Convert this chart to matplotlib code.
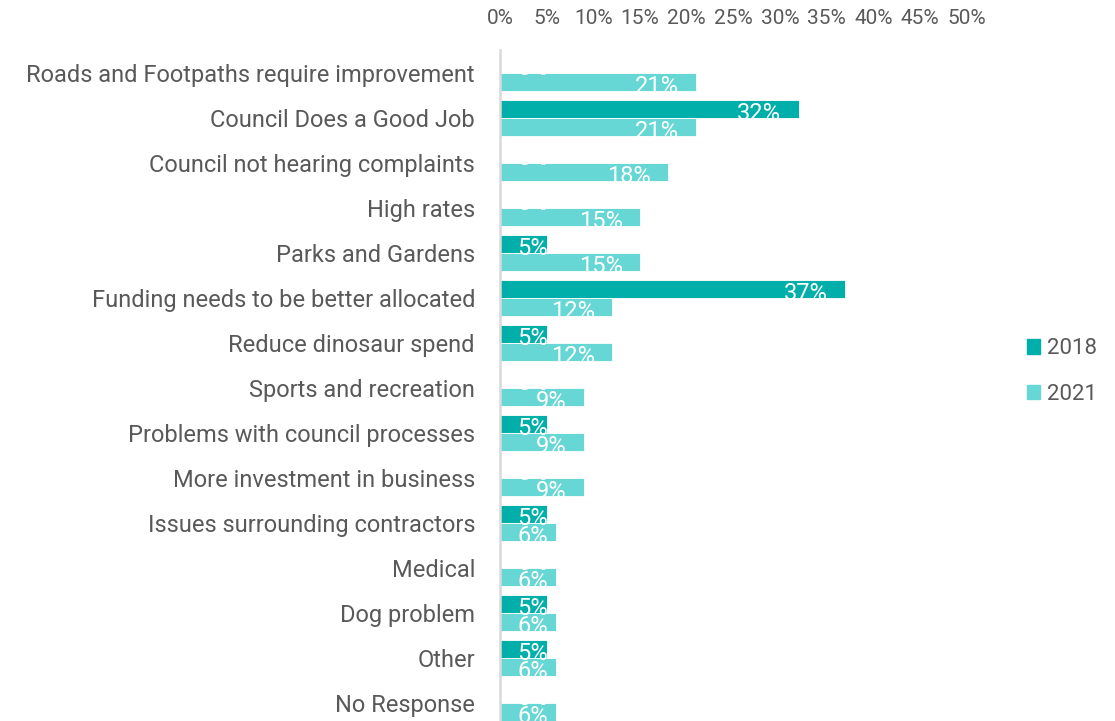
import matplotlib.pyplot as plt
import numpy as np
from matplotlib.patches import Patch

plt.rcParams["font.family"] = ["Roboto", "DejaVu Sans"]

categories = [
    "Roads and Footpaths require improvement",
    "Council Does a Good Job",
    "Council not hearing complaints",
    "High rates",
    "Parks and Gardens",
    "Funding needs to be better allocated",
    "Reduce dinosaur spend",
    "Sports and recreation",
    "Problems with council processes",
    "More investment in business",
    "Issues surrounding contractors",
    "Medical",
    "Dog problem",
    "Other",
    "No Response",
]
pct_2018 = [0, 32, 0, 0, 5, 37, 5, 0, 5, 0, 5, 0, 5, 5, 0]
pct_2021 = [21, 21, 18, 15, 15, 12, 12, 9, 9, 9, 6, 6, 6, 6, 6]
x_ticks = [0, 5, 10, 15, 20, 25, 30, 35, 40, 45, 50]

c2018 = "#00AFA9"
c2021 = "#66D7D5"
grey = "#595959"

fig = plt.figure(figsize=(11.15, 7.21), dpi=100)
ax = fig.add_axes([500 / 1115, 0, (966.7 - 500) / 1115, 1 - 50.2 / 721])

y = np.arange(len(categories))
h = 0.4
ax.barh(y - h / 2, pct_2018, height=h, color=c2018, edgecolor="white", linewidth=0.6, label="2018")
ax.barh(y + h / 2, pct_2021, height=h, color=c2021, edgecolor="white", linewidth=0.6, label="2021")

# value labels: inside the end of the bar, or pinned to the axis for short bars
for yy, vals in [(y - h / 2, pct_2018), (y + h / 2, pct_2021)]:
    for yi, v in zip(yy, vals):
        if v < 8:
            ax.annotate(f"{v}%", (0, yi), xytext=(12.5, -3.5), textcoords="offset points",
                        ha="left", va="center", color="white", fontsize=17, zorder=5)
        else:
            ax.annotate(f"{v}%", (v, yi), xytext=(-12.5, -3.5), textcoords="offset points",
                        ha="right", va="center", color="white", fontsize=17, zorder=5)

ax.set_xlim(0, 50)
ax.set_ylim(14.4, -0.5)
ax.set_xticks(x_ticks)
ax.set_xticklabels([f"{t}%" for t in x_ticks])
ax.xaxis.tick_top()
ax.tick_params(axis="x", length=0, pad=16, labelsize=15, labelcolor=grey)
ax.set_yticks(y)
ax.set_yticklabels(categories)
ax.tick_params(axis="y", length=0, pad=18, labelsize=17, labelcolor=grey)

for s in ["top", "right", "bottom"]:
    ax.spines[s].set_visible(False)
ax.spines["left"].set_color("#D9D9D9")
ax.spines["left"].set_linewidth(1.8)

handles = [Patch(color=c2018, label="2018"), Patch(color=c2021, label="2021")]
fig.legend(handles=handles, loc="center left", bbox_to_anchor=(1027 / 1115, 1 - 371.5 / 721),
           frameon=False, fontsize=16, labelcolor=grey, borderpad=0, borderaxespad=0,
           handlelength=0.6, handleheight=0.6, handletextpad=0.3, labelspacing=1.1)

fig.savefig("out.png", dpi=100)
